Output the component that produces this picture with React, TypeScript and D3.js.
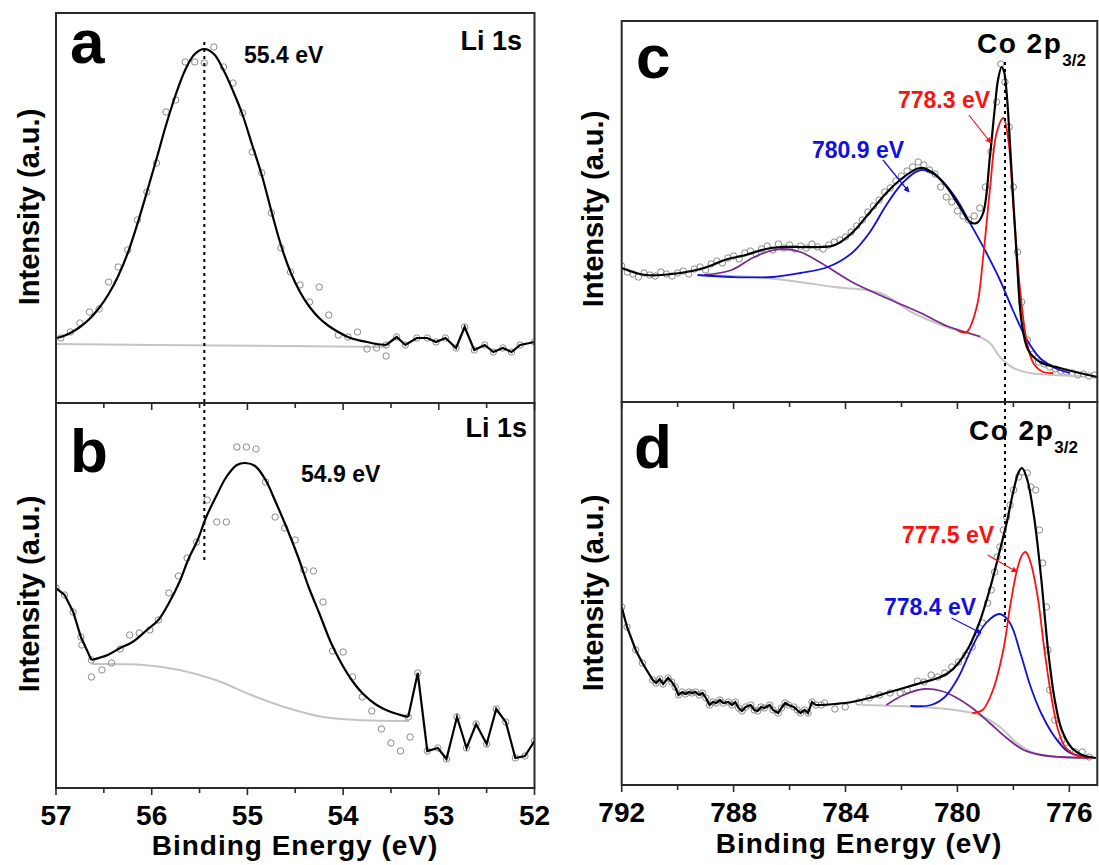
import React from 'react';
import * as d3 from 'd3';

type P = [number, number];

// ---------- Panel a : Li 1s (binding energy eV, intensity a.u.) ----------
const liAFit: P[] = [
  [57.0, 65], [56.95, 66], [56.85, 70], [56.75, 76], [56.65, 84], [56.55, 95], [56.45, 109], [56.35, 127],
  [56.25, 150], [56.15, 179], [56.05, 211], [55.95, 244], [55.85, 278], [55.75, 308], [55.65, 333], [55.55, 349],
  [55.45, 354], [55.35, 349], [55.25, 333], [55.15, 312], [55.05, 288], [54.95, 258], [54.85, 228], [54.75, 192],
  [54.65, 158], [54.55, 131], [54.45, 111], [54.35, 96], [54.25, 85], [54.15, 77], [54.05, 71], [53.95, 66],
  [53.85, 63], [53.75, 61], [53.65, 59], [53.55, 58],
];
const liARaw: P[] = [
  [53.55, 58], [53.44, 66], [53.35, 58], [53.23, 65], [53.12, 65], [53.03, 61], [52.93, 65], [52.82, 55],
  [52.73, 76], [52.63, 53], [52.52, 58], [52.43, 51], [52.33, 55], [52.24, 51], [52.15, 58], [52.0, 61],
];
const liABg: P[] = [[57.0, 59], [55.3, 57.5], [53.55, 56]];
const liAPts: P[] = [
  [56.95, 65], [56.85, 71], [56.75, 80], [56.65, 91], [56.55, 94], [56.45, 121], [56.35, 136], [56.25, 153],
  [56.15, 183], [56.05, 211], [55.95, 240], [55.85, 291], [55.75, 303], [55.65, 341], [55.55, 341], [55.45, 340],
  [55.35, 356], [55.25, 336], [55.15, 320], [55.05, 290], [54.95, 251], [54.85, 230], [54.75, 190], [54.65, 155],
  [54.55, 131], [54.45, 118], [54.35, 101], [54.25, 116], [54.15, 88], [54.05, 68], [53.95, 66], [53.85, 71],
  [53.75, 54], [53.65, 55], [53.55, 47],
];

// ---------- Panel b : Li 1s ----------
const liBRawLeft: P[] = [[57.0, 200], [56.91, 193], [56.82, 176], [56.74, 151], [56.63, 128]];
const liBFit: P[] = [
  [56.63, 128], [56.46, 133], [56.33, 140], [56.2, 146], [56.05, 158], [55.93, 168], [55.82, 185], [55.71, 206],
  [55.62, 228], [55.52, 248], [55.43, 271], [55.33, 291], [55.22, 311], [55.11, 323], [55.02, 325], [54.92, 322],
  [54.81, 308], [54.7, 285], [54.58, 258], [54.47, 231], [54.36, 201], [54.25, 175], [54.13, 146], [54.02, 125],
  [53.91, 108], [53.8, 95], [53.65, 83], [53.5, 76], [53.32, 71],
];
const liBRawRight: P[] = [
  [53.32, 71], [53.22, 115], [53.12, 37], [53.01, 40], [52.92, 29], [52.81, 71], [52.71, 40], [52.61, 64],
  [52.5, 44], [52.4, 79], [52.3, 66], [52.2, 30], [52.1, 32], [52.0, 47],
];
const liBBg: P[] = [
  [56.63, 124], [56.08, 123], [55.71, 118], [55.33, 108], [54.96, 93], [54.58, 80], [54.21, 71], [53.84, 68], [53.31, 67],
];
const liBPts: P[] = [
  [56.73, 143], [56.63, 111], [56.52, 118], [56.42, 125], [56.33, 139], [56.23, 153], [56.13, 155], [56.02, 158],
  [55.93, 168], [55.82, 195], [55.72, 212], [55.63, 230], [55.53, 246], [55.42, 288], [55.32, 266], [55.22, 266],
  [55.11, 341], [55.01, 341], [54.91, 339], [54.81, 306], [54.71, 271], [54.61, 260], [54.5, 248], [54.41, 218],
  [54.31, 217], [54.21, 186], [54.11, 137], [54.0, 136], [53.9, 111], [53.8, 91], [53.7, 77], [53.6, 59],
  [53.5, 45], [53.4, 37], [53.3, 51],
];

// ---------- Panel c : Co 2p3/2 ----------
const coCEnv: P[] = [
  [792.0, 134], [791.14, 127], [789.91, 129], [789.05, 134], [788.31, 142], [787.57, 147], [786.84, 153],
  [786.22, 155], [785.61, 155], [784.87, 155], [784.38, 157], [783.77, 169], [783.15, 189], [782.54, 209],
  [782.05, 222], [781.34, 234], [780.86, 229], [780.38, 215], [779.91, 195], [779.55, 180], [779.31, 179],
  [779.08, 189], [778.84, 245], [778.66, 295], [778.55, 322], [778.42, 335], [778.33, 330], [778.24, 309],
  [778.06, 229], [777.88, 145], [777.7, 79], [777.47, 52], [777.05, 40], [776.34, 34], [775.63, 29], [775.0, 25],
];
const coCRed: P[] = [
  [779.98, 71], [779.67, 70], [779.31, 95], [779.08, 145], [778.84, 212], [778.6, 269], [778.36, 284],
  [778.18, 262], [778.0, 195], [777.76, 112], [777.53, 62], [777.29, 39], [776.93, 30], [776.57, 29],
];
const coCBlue: P[] = [
  [789.29, 127], [788.07, 125], [786.59, 125], [785.61, 129], [784.63, 135], [783.77, 149], [783.15, 169],
  [782.54, 197], [781.93, 220], [781.31, 232], [780.7, 225], [780.08, 205], [779.47, 175], [778.98, 150],
  [778.48, 122], [778.02, 92], [777.51, 62], [777.05, 44], [776.52, 34], [775.98, 29],
];
const coCPurple: P[] = [
  [789.05, 127], [788.07, 132], [787.33, 144], [786.71, 151], [786.22, 153], [785.61, 150], [784.87, 139],
  [783.77, 120], [782.54, 104], [781.31, 89], [780.38, 76], [779.67, 69.5], [779.19, 65.5],
];
const coCBg: P[] = [
  [789.05, 127], [786.84, 124], [784.38, 115], [782.77, 109], [781.58, 89], [780.38, 75], [779.67, 69],
  [779.19, 65], [778.84, 59], [778.48, 45], [778.0, 34], [777.41, 29], [776.57, 27], [775.63, 26],
];
const coCPts: P[] = [
  [792.0, 136], [791.8, 130], [791.6, 128], [791.4, 125], [791.2, 129], [791.0, 127], [790.8, 126], [790.6, 130],
  [790.4, 128], [790.2, 126], [790.0, 129], [789.8, 131], [789.6, 128], [789.4, 133], [789.2, 135], [789.0, 132],
  [788.8, 138], [788.6, 141], [788.4, 139], [788.2, 144], [788.0, 146], [787.8, 143], [787.6, 149], [787.4, 151],
  [787.2, 148], [787.0, 153], [786.8, 156], [786.6, 152], [786.4, 158], [786.2, 154], [786.0, 157], [785.8, 153],
  [785.6, 156], [785.4, 154], [785.2, 158], [785.0, 155], [784.8, 153], [784.6, 157], [784.4, 160], [784.2, 162],
  [784.0, 165], [783.8, 170], [783.6, 176], [783.4, 182], [783.2, 190], [783.0, 196], [782.8, 202], [782.6, 210],
  [782.4, 214], [782.2, 221], [782.0, 226], [781.8, 231], [781.6, 235], [781.4, 240], [781.2, 237], [781.0, 232],
  [780.8, 228], [780.6, 215], [780.4, 205], [780.2, 200], [780.0, 191], [779.8, 186], [779.6, 182], [779.4, 186],
  [779.2, 194], [779.0, 215], [778.8, 250], [778.6, 300], [778.45, 338], [778.3, 320], [778.15, 275], [778.0, 215],
  [777.85, 150], [777.7, 100], [777.5, 62], [777.3, 48], [777.1, 40], [776.9, 38], [776.7, 35], [776.5, 33],
  [776.3, 31], [776.1, 30], [775.9, 29], [775.7, 27], [775.5, 28], [775.3, 26], [775.1, 27],
];

// ---------- Panel d : Co 2p3/2 ----------
const coDRaw: P[] = [
  [792.0, 178], [791.81, 158], [791.5, 135], [791.26, 122], [790.89, 105], [790.77, 102], [790.64, 106],
  [790.52, 101], [790.34, 107], [790.21, 103], [790.09, 98], [789.97, 90], [789.84, 93], [789.72, 91],
  [789.6, 93], [789.48, 92], [789.36, 93], [789.23, 90], [789.11, 92], [788.99, 87], [788.86, 80], [788.74, 83],
  [788.62, 82], [788.49, 85], [788.37, 82], [788.19, 83], [788.06, 80], [787.94, 83], [787.82, 77], [787.7, 74],
  [787.57, 78], [787.39, 80], [787.26, 75], [787.14, 74], [787.02, 78], [786.9, 77], [786.71, 80], [786.59, 75],
  [786.41, 72], [786.29, 77], [786.16, 82], [786.04, 80], [785.85, 78], [785.73, 75], [785.61, 72], [785.46, 75],
  [785.34, 72], [785.2, 83], [785.06, 80], [784.87, 80],
];
const coDEnv: P[] = [
  [784.87, 80], [784.38, 81], [783.77, 83], [783.15, 87], [782.54, 92], [781.92, 97], [781.31, 102], [780.7, 107],
  [780.33, 112], [779.96, 122], [779.59, 138], [779.22, 162], [778.85, 195], [778.48, 235], [778.24, 262],
  [777.99, 295], [777.81, 313], [777.69, 317], [777.5, 305], [777.26, 268], [777.01, 208], [776.76, 135],
  [776.52, 85], [776.27, 55], [775.91, 37], [775.54, 30], [775.05, 27],
];
const coDRed: P[] = [
  [779.47, 72], [779.1, 75], [778.73, 95], [778.36, 135], [778.12, 178], [777.87, 215], [777.69, 230],
  [777.56, 233], [777.38, 222], [777.13, 188], [776.89, 135], [776.64, 88], [776.4, 55], [776.15, 38],
  [775.78, 30], [775.29, 27],
];
const coDBlue: P[] = [
  [781.68, 79], [780.94, 80], [780.45, 88], [779.96, 108], [779.47, 138], [778.98, 162], [778.48, 171],
  [778.12, 162], [777.75, 132], [777.38, 98], [777.01, 72], [776.52, 48], [776.03, 33], [775.41, 28],
];
const coDPurple: P[] = [
  [782.54, 80], [781.92, 90], [781.19, 96], [780.57, 94], [780.08, 88], [779.47, 77], [778.85, 62],
  [778.24, 47], [777.63, 35], [777.01, 30], [776.27, 28], [775.29, 27],
];
const coDBg: P[] = [
  [783.4, 80], [781.31, 78], [780.08, 75], [779.22, 70], [778.48, 58], [777.87, 42], [777.26, 32], [776.4, 28], [775.05, 27],
];
const coDPts: P[] = [
  [784.75, 82], [784.38, 76], [784.01, 78], [783.52, 83], [783.15, 87], [782.78, 90], [782.41, 92], [782.05, 92],
  [781.8, 95], [781.43, 104], [781.19, 103], [780.94, 110], [780.7, 108], [780.45, 112], [780.2, 118], [779.96, 123],
  [779.71, 130], [779.47, 138], [779.28, 152], [779.1, 162], [778.92, 182], [778.79, 195], [778.67, 213],
  [778.58, 228], [778.48, 238], [778.36, 255], [778.24, 268], [778.12, 280], [777.99, 295], [777.81, 308],
  [777.69, 313], [777.5, 312], [777.38, 298], [777.2, 295], [777.07, 255], [776.95, 222], [776.82, 178],
  [776.76, 135], [776.7, 95], [776.52, 65], [776.27, 45], [776.03, 37], [775.78, 33], [775.54, 33], [775.29, 28],
];

// ---------- Axes ----------
const liTicks = [57, 56, 55, 54, 53, 52];
const liMinor = [56.5, 55.5, 54.5, 53.5, 52.5];
const coTicks = [792, 788, 784, 780, 776];
const coMinor = [790, 786, 782, 778];

const xLi = d3.scaleLinear().domain([57, 52]).range([56, 534.5]);
const yA = d3.scaleLinear().domain([0, 390]).range([403, 13]);
const yB = d3.scaleLinear().domain([0, 385]).range([788, 403]);
const xCo = d3.scaleLinear().domain([792, 775]).range([621.7, 1097.3]);
const yC = d3.scaleLinear().domain([0, 381]).range([402, 21]);
const yD = d3.scaleLinear().domain([0, 383]).range([785, 402]);

type Sc = d3.ScaleLinear<number, number>;
const smooth = d3.curveCatmullRom.alpha(0.5);
function mk(data: P[], x: Sc, y: Sc, curve: d3.CurveFactory = smooth): string {
  return d3.line<P>().x(d => x(d[0])).y(d => y(d[1])).curve(curve)(data) || '';
}

const FONT = '"Liberation Sans", Arial, Helvetica, sans-serif';
const RED = '#ff1010';
const BLUE = '#1010e0';
const PURPLE = '#7a2a8c';
const GRAY = '#c4c4c4';

function Circles({ data, x, y }: { data: P[]; x: Sc; y: Sc }) {
  return (
    <g fill="none" stroke="#8a8a8a" strokeWidth={1}>
      {data.map((d, i) => (
        <circle key={i} cx={x(d[0])} cy={y(d[1])} r={3.2} />
      ))}
    </g>
  );
}

function Frame({ x, y }: { x: Sc; y: Sc }) {
  const [x0, x1] = x.range();
  const [y0, y1] = y.range();
  return (
    <rect x={Math.min(x0, x1)} y={Math.min(y0, y1)} width={Math.abs(x1 - x0)} height={Math.abs(y1 - y0)}
      fill="none" stroke="#2a2a2a" strokeWidth={2} />
  );
}

function Ticks({ x, yPix, major, minor }: { x: Sc; yPix: number; major: number[]; minor: number[] }) {
  return (
    <g stroke="#2a2a2a" strokeWidth={1.6}>
      {major.map(t => <line key={'M' + t} x1={x(t)} x2={x(t)} y1={yPix} y2={yPix + 7} />)}
      {minor.map(t => <line key={'m' + t} x1={x(t)} x2={x(t)} y1={yPix} y2={yPix + 5} />)}
    </g>
  );
}

export default function App() {
  const clipRect = (id: string, x: Sc, y: Sc) => {
    const [x0, x1] = x.range();
    const [y0, y1] = y.range();
    return (
      <clipPath id={id}>
        <rect x={x0} y={Math.min(y0, y1)} width={x1 - x0} height={Math.abs(y1 - y0)} />
      </clipPath>
    );
  };
  const tb = { fontFamily: FONT, fontWeight: 700 as const };

  return (
    <svg width={1099} height={865} viewBox="0 0 1099 865"
      style={{ position: 'absolute', left: 0, top: 0, background: '#fff' }}>
      <defs>
        {clipRect('ca', xLi, yA)}
        {clipRect('cb', xLi, yB)}
        {clipRect('cc', xCo, yC)}
        {clipRect('cd', xCo, yD)}
        <marker id="arR" viewBox="0 0 10 10" refX="9" refY="5" markerWidth="5" markerHeight="5" orient="auto">
          <path d="M0,0 L10,5 L0,10 z" fill={RED} />
        </marker>
        <marker id="arB" viewBox="0 0 10 10" refX="9" refY="5" markerWidth="5" markerHeight="5" orient="auto">
          <path d="M0,0 L10,5 L0,10 z" fill={BLUE} />
        </marker>
      </defs>
      <rect x={0} y={0} width={1099} height={865} fill="#fff" />

      {/* Panel a */}
      <g clipPath="url(#ca)">
        <path d={mk(liABg, xLi, yA)} fill="none" stroke={GRAY} strokeWidth={2} />
        <Circles data={liAPts} x={xLi} y={yA} />
        <Circles data={liARaw} x={xLi} y={yA} />
        <path d={mk(liAFit, xLi, yA)} fill="none" stroke="#000" strokeWidth={2.2} />
        <path d={mk(liARaw, xLi, yA, d3.curveLinear)} fill="none" stroke="#000" strokeWidth={2.2} />
      </g>
      {/* Panel b */}
      <g clipPath="url(#cb)">
        <path d={mk(liBBg, xLi, yB)} fill="none" stroke={GRAY} strokeWidth={2} />
        <Circles data={liBPts} x={xLi} y={yB} />
        <Circles data={liBRawLeft} x={xLi} y={yB} />
        <Circles data={liBRawRight} x={xLi} y={yB} />
        <path d={mk(liBRawLeft, xLi, yB, d3.curveLinear)} fill="none" stroke="#000" strokeWidth={2.2} />
        <path d={mk(liBFit, xLi, yB)} fill="none" stroke="#000" strokeWidth={2.2} />
        <path d={mk(liBRawRight, xLi, yB, d3.curveLinear)} fill="none" stroke="#000" strokeWidth={2.2} />
      </g>
      {/* Panel c */}
      <g clipPath="url(#cc)">
        <Circles data={coCPts} x={xCo} y={yC} />
        <path d={mk(coCBg, xCo, yC)} fill="none" stroke={GRAY} strokeWidth={2} />
        <path d={mk(coCPurple, xCo, yC)} fill="none" stroke={PURPLE} strokeWidth={1.8} />
        <path d={mk(coCBlue, xCo, yC)} fill="none" stroke={BLUE} strokeWidth={1.8} />
        <path d={mk(coCRed, xCo, yC)} fill="none" stroke={RED} strokeWidth={1.8} />
        <path d={mk(coCEnv, xCo, yC)} fill="none" stroke="#000" strokeWidth={2.2} />
      </g>
      {/* Panel d */}
      <g clipPath="url(#cd)">
        <Circles data={coDRaw} x={xCo} y={yD} />
        <Circles data={coDPts} x={xCo} y={yD} />
        <path d={mk(coDBg, xCo, yD)} fill="none" stroke={GRAY} strokeWidth={2} />
        <path d={mk(coDPurple, xCo, yD)} fill="none" stroke={PURPLE} strokeWidth={1.8} />
        <path d={mk(coDBlue, xCo, yD)} fill="none" stroke={BLUE} strokeWidth={1.8} />
        <path d={mk(coDRed, xCo, yD)} fill="none" stroke={RED} strokeWidth={1.8} />
        <path d={mk(coDRaw, xCo, yD, d3.curveLinear)} fill="none" stroke="#000" strokeWidth={2.2} />
        <path d={mk(coDEnv, xCo, yD)} fill="none" stroke="#000" strokeWidth={2.2} />
      </g>

      {/* dashed reference lines */}
      <line x1={xLi(55.45)} x2={xLi(55.45)} y1={yA(361)} y2={yA(0)} stroke="#000" strokeWidth={2} strokeDasharray="3,4" />
      <line x1={xLi(55.45)} x2={xLi(55.45)} y1={yB(385)} y2={yB(228)} stroke="#000" strokeWidth={2} strokeDasharray="3,4" />
      <line x1={xCo(778.3)} x2={xCo(778.3)} y1={yC(340)} y2={yC(0)} stroke="#000" strokeWidth={2} strokeDasharray="3,4" />
      <line x1={xCo(778.3)} x2={xCo(778.3)} y1={yD(383)} y2={yD(158)} stroke="#000" strokeWidth={2} strokeDasharray="3,4" />

      {/* arrows */}
      <line x1={xCo(779.59)} y1={yC(287)} x2={xCo(778.8)} y2={yC(259)} stroke={RED} strokeWidth={1.2} markerEnd="url(#arR)" />
      <line x1={xCo(782.66)} y1={yC(242)} x2={xCo(781.73)} y2={yC(210)} stroke={BLUE} strokeWidth={1.2} markerEnd="url(#arB)" />
      <line x1={xCo(778.92)} y1={yD(230)} x2={xCo(777.87)} y2={yD(213)} stroke={RED} strokeWidth={1.2} markerEnd="url(#arR)" />
      <line x1={xCo(780.21)} y1={yD(167)} x2={xCo(779.16)} y2={yD(152)} stroke={BLUE} strokeWidth={1.2} markerEnd="url(#arB)" />

      {/* frames and ticks */}
      <Frame x={xLi} y={yA} />
      <Frame x={xLi} y={yB} />
      <Frame x={xCo} y={yC} />
      <Frame x={xCo} y={yD} />
      <Ticks x={xLi} yPix={403} major={liTicks} minor={liMinor} />
      <Ticks x={xLi} yPix={788} major={liTicks} minor={liMinor} />
      <Ticks x={xCo} yPix={402} major={coTicks} minor={coMinor} />
      <Ticks x={xCo} yPix={785} major={coTicks} minor={coMinor} />

      {/* tick labels */}
      <g {...tb} fontSize={28} textAnchor="middle" fill="#000">
        {liTicks.map(t => <text key={t} x={xLi(t)} y={825}>{t}</text>)}
        {coTicks.map(t => <text key={t} x={xCo(t)} y={822}>{t}</text>)}
      </g>

      {/* axis titles */}
      <g {...tb} fontSize={28} fill="#000" textAnchor="middle">
        <text x={295} y={855} letterSpacing={1}>Binding Energy (eV)</text>
        <text x={859} y={853} letterSpacing={1}>Binding Energy (eV)</text>
      </g>
      <g {...tb} fontSize={29} fill="#000" textAnchor="middle">
        <text transform="translate(39,207) rotate(-90)">Intensity (a.u.)</text>
        <text transform="translate(39,594) rotate(-90)">Intensity (a.u.)</text>
        <text transform="translate(603,209) rotate(-90)">Intensity (a.u.)</text>
        <text transform="translate(603,593) rotate(-90)">Intensity (a.u.)</text>
      </g>

      {/* panel letters */}
      <g {...tb} fontSize={62} fill="#000">
        <text x={70} y={63}>a</text>
        <text x={70} y={472}>b</text>
        <text x={636} y={78}>c</text>
        <text x={634} y={468}>d</text>
      </g>

      {/* annotations */}
      <g {...tb} fill="#000">
        <text x={244} y={63} fontSize={23}>55.4 eV</text>
        <text x={301} y={482} fontSize={23}>54.9 eV</text>
        <text x={522} y={50} fontSize={27} textAnchor="end">Li 1s</text>
        <text x={527} y={437} fontSize={27} textAnchor="end">Li 1s</text>
        <text x={977} y={53} fontSize={28} letterSpacing={1.5}>Co 2p<tspan fontSize={17} dy={13} letterSpacing={0}>3/2</tspan></text>
        <text x={969} y={440} fontSize={28} letterSpacing={1.5}>Co 2p<tspan fontSize={17} dy={13} letterSpacing={0}>3/2</tspan></text>
        <text x={898} y={108} fontSize={23} fill={RED}>778.3 eV</text>
        <text x={812} y={158} fontSize={23} fill={BLUE}>780.9 eV</text>
        <text x={902} y={543} fontSize={23} fill={RED}>777.5 eV</text>
        <text x={884} y={615} fontSize={23} fill={BLUE}>778.4 eV</text>
      </g>
    </svg>
  );
}
